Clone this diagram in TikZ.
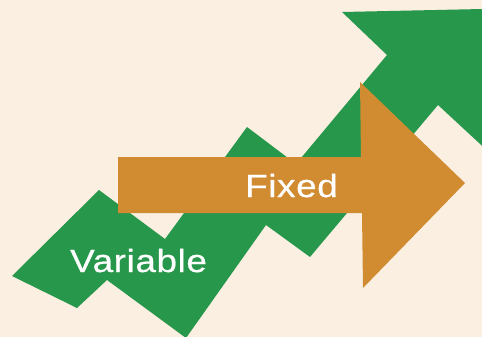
\documentclass[tikz,border=0pt]{standalone}
\usepackage{fontspec}
\setmainfont{Liberation Sans}
\newfontfamily\labelfont[FakeStretch=1.15,LetterSpace=2,FakeBold=0.6]{Liberation Sans}
\definecolor{bgcream}{RGB}{250,239,225}
\definecolor{zgreen}{RGB}{39,151,76}
\definecolor{arrorange}{RGB}{209,139,48}
\begin{document}
\begin{tikzpicture}[x=1pt,y=-1pt,
  lbl/.style={text=white,font=\labelfont\fontsize{32}{36}\selectfont,anchor=base west,inner sep=0pt}]
\useasboundingbox (0,0) rectangle (482,337);
\fill[bgcream] (0,0) rectangle (482,337);
\begin{scope}
\clip (0,0) rectangle (482,337);
% zigzag green arrow
\fill[zgreen] (12,276) -- (77,308) -- (107,280) -- (186,338) -- (266,225) -- (310,257)
  -- (438,105) -- (492,155) -- (492,8.8) -- (342,12) -- (387,55) -- (296,164)
  -- (247,127) -- (165,239) -- (99,190) -- cycle;
\end{scope}
% orange fixed arrow
\fill[arrorange] (118,157) -- (361,157) -- (360,82) -- (465,183) -- (363,288) -- (362,213) -- (118,213) -- cycle;
\node[lbl] (variable) at (70,272) {Variable};
\node[lbl] (fixed) at (245,197) {Fixed};
\end{tikzpicture}
\end{document}
